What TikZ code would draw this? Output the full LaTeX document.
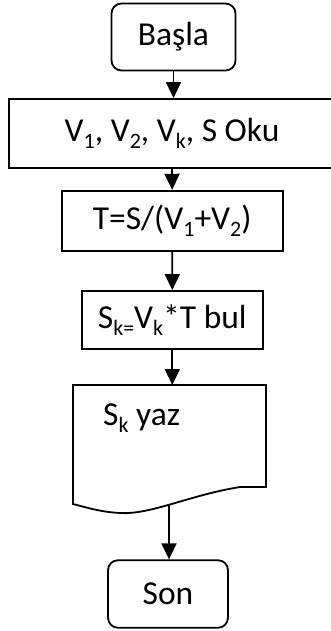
\documentclass[tikz,border=0pt]{standalone}
\usepackage{fontspec}
\setmainfont{Carlito}
\usetikzlibrary{arrows.meta, positioning, calc}

\newcommand{\lowtxt}[1]{\raisebox{-0.4ex}{\fontsize{22}{22}\selectfont #1}}

\begin{document}
\begin{tikzpicture}[x=1pt, y=-1pt, line width=1.8pt, font=\fontsize{33.5}{40}\selectfont,
		>={Triangle[length=16pt, width=15pt]},
		flowbox/.style={draw, rectangle, inner sep=0pt, align=center},
		endbox/.style={flowbox, rounded corners=10pt}]
	
	\useasboundingbox (0,0) rectangle (331,631);
	
	% 1. START
	\node[endbox, minimum width=124pt, minimum height=67pt] (basla) at (173.5, 37) {Başla};
	
	% 2. READ INPUTS (runs past the right edge)
	\node[flowbox, minimum width=326pt, minimum height=69pt] (oku) at (172, 133.5)
		{V\lowtxt{1}, V\lowtxt{2}, V\lowtxt{k}, S Oku};
	
	% 3. TIME
	\node[flowbox, minimum width=221pt, minimum height=60pt] (zaman) at (172.2, 220.7)
		{T=S/(V\lowtxt{1}+V\lowtxt{2})};
	
	% 4. DISTANCE
	\node[flowbox, minimum width=181pt, minimum height=58pt] (bul) at (172.3, 320)
		{S\lowtxt{k=}V\lowtxt{k}*T bul};
	
	% 5. OUTPUT (document shape)
	\draw (266, 487) -- (266, 385) -- (73, 385) -- (73, 504)
		.. controls (85, 507) and (100, 512) .. (120, 513)
		.. controls (150, 515) and (190, 495) .. (240, 487) -- cycle;
	\node[anchor=west] (yaz) at (99, 418) {S\lowtxt{k} yaz};
	\coordinate (doctop) at (172.3, 385);
	\coordinate (docbot) at (169, 505);
	
	% 6. END
	\node[endbox, minimum width=120pt, minimum height=67.5pt] (son) at (168, 594) {Son};
	
	% Connectors
	\draw[->] (basla.south) -- (oku.north -| basla.south);
	\draw[->] (oku.south) -- (zaman.north);
	\draw[->] (zaman.south) -- (bul.north);
	\draw[->] (bul.south) -- (doctop);
	\draw[->] (docbot) -- (son.north -| docbot);
	
\end{tikzpicture}
\end{document}
